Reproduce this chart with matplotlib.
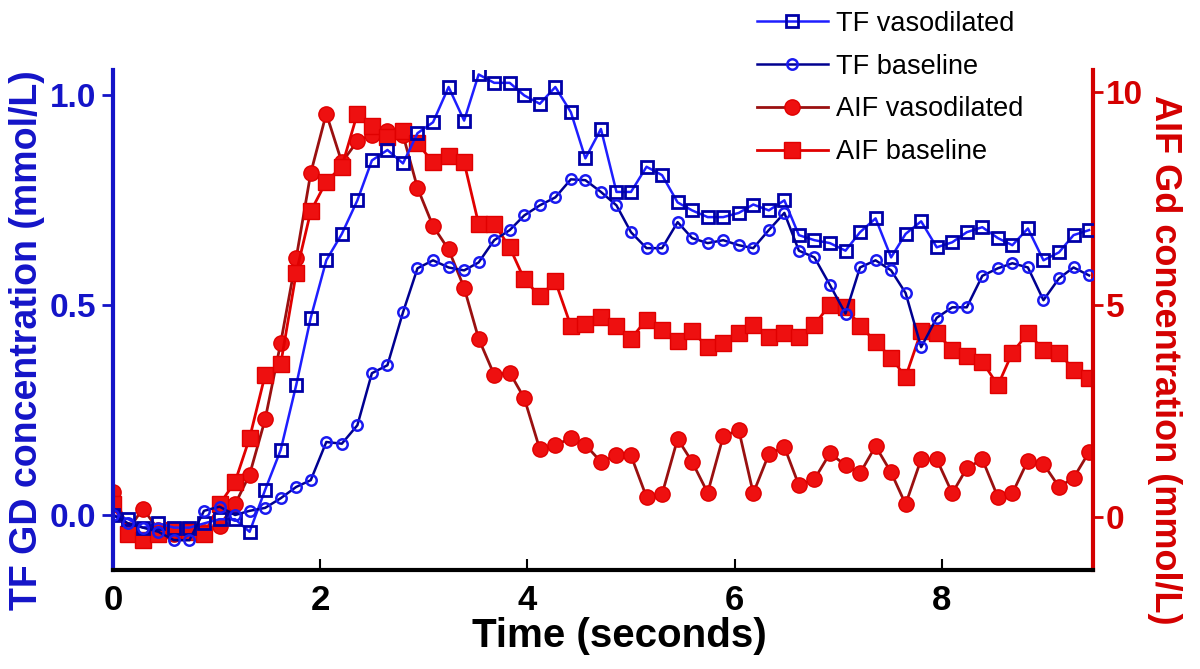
import matplotlib.pyplot as plt

plt.rcParams['font.family'] = ['Liberation Sans', 'DejaVu Sans']

# sample times (s)
time = [0.00, 0.15, 0.29, 0.44, 0.59, 0.74, 0.88, 1.03, 1.18, 1.32,
        1.47, 1.62, 1.77, 1.91, 2.06, 2.21, 2.36, 2.50, 2.65, 2.80,
        2.94, 3.09, 3.24, 3.39, 3.53, 3.68, 3.83, 3.97, 4.12, 4.27,
        4.42, 4.56, 4.71, 4.86, 5.00, 5.15, 5.30, 5.45, 5.59, 5.74,
        5.89, 6.04, 6.18, 6.33, 6.48, 6.62, 6.77, 6.92, 7.07, 7.21,
        7.36, 7.51, 7.65, 7.80, 7.95, 8.10, 8.24, 8.39, 8.54, 8.68,
        8.83, 8.98, 9.13, 9.27, 9.42]

# tissue function (left axis, mmol/L)
tf_vaso = [0.00, -0.01, -0.03, -0.02, -0.03, -0.03, -0.02, -0.01, -0.01, -0.04,
           0.06, 0.155, 0.31, 0.47, 0.607, 0.67, 0.75, 0.845, 0.87, 0.838,
           0.91, 0.936, 1.02, 0.94, 1.05, 1.03, 1.03, 1.00, 0.98, 1.02,
           0.96, 0.85, 0.92, 0.77, 0.77, 0.83, 0.81, 0.745, 0.726, 0.71,
           0.71, 0.72, 0.74, 0.726, 0.75, 0.667, 0.655, 0.648, 0.63, 0.674,
           0.707, 0.614, 0.67, 0.70, 0.638, 0.65, 0.674, 0.686, 0.66, 0.643,
           0.683, 0.607, 0.626, 0.667, 0.679]
tf_base = [0.00, -0.02, -0.03, -0.04, -0.06, -0.06, 0.01, 0.02, 0.00, 0.01,
           0.017, 0.04, 0.067, 0.083, 0.174, 0.17, 0.214, 0.338, 0.357, 0.483,
           0.588, 0.607, 0.59, 0.583, 0.602, 0.655, 0.679, 0.714, 0.738, 0.757,
           0.80, 0.798, 0.77, 0.738, 0.674, 0.636, 0.636, 0.698, 0.66, 0.648,
           0.655, 0.643, 0.636, 0.679, 0.72, 0.63, 0.614, 0.548, 0.48, 0.59,
           0.607, 0.583, 0.529, 0.40, 0.47, 0.495, 0.495, 0.57, 0.588, 0.60,
           0.59, 0.512, 0.564, 0.59, 0.571]

# arterial input function (right axis, mmol/L)
aif_vaso = [0.6, -0.3, 0.2, -0.3, -0.4, -0.3, -0.35, -0.2, 0.3, 1.0,
            2.3, 4.1, 6.1, 8.1, 9.5, 8.35, 8.85, 9.0, 9.1, 9.0,
            7.75, 6.85, 6.3, 5.4, 4.2, 3.35, 3.4, 2.8, 1.6, 1.7,
            1.85, 1.7, 1.3, 1.45, 1.45, 0.47, 0.54, 1.84, 1.3, 0.57,
            1.9, 2.05, 0.56, 1.48, 1.65, 0.75, 0.89, 1.5, 1.22, 1.03,
            1.67, 1.05, 0.3, 1.36, 1.36, 0.56, 1.15, 1.36, 0.47, 0.56,
            1.33, 1.25, 0.71, 0.92, 1.53]
aif_base = [0.3, -0.4, -0.55, -0.4, -0.3, -0.35, -0.4, 0.3, 0.83, 1.86,
            3.35, 3.6, 5.75, 7.2, 7.9, 8.25, 9.5, 9.2, 8.95, 9.1,
            8.8, 8.35, 8.5, 8.35, 6.9, 6.9, 6.35, 5.6, 5.2, 5.55,
            4.5, 4.55, 4.7, 4.5, 4.2, 4.65, 4.4, 4.15, 4.37, 4.0,
            4.1, 4.33, 4.53, 4.25, 4.33, 4.25, 4.53, 5.0, 4.95, 4.5,
            4.13, 3.75, 3.3, 4.37, 4.33, 3.94, 3.78, 3.66, 3.1, 3.87,
            4.33, 3.94, 3.87, 3.47, 3.28]

x_ticks = [0, 2, 4, 6, 8]
tf_ticks = [0.0, 0.5, 1.0]
aif_ticks = [0, 5, 10]

BLUE = '#1414c8'
RED = '#d40000'


def main():
    fig = plt.figure(figsize=(12, 6.69), dpi=100)
    ax = fig.add_axes([0.094, 0.148, 0.817, 0.747])
    ax2 = ax.twinx()
    # blue curves drawn on top of red ones
    ax.set_zorder(ax2.get_zorder() + 1)
    ax.patch.set_visible(False)

    h3, = ax2.plot(time, aif_vaso, color='#9a1010', lw=2, marker='o', ms=11,
                   mfc='#ee1010', mec='#e00000', label='AIF vasodilated')
    h4, = ax2.plot(time, aif_base, color='#e00000', lw=2, marker='s', ms=11,
                   mfc='#ee1010', mec='#e00000', label='AIF baseline')
    h1, = ax.plot(time, tf_vaso, color='#1e1eff', lw=1.8, marker='s', ms=9,
                  mfc='none', mec='#0000a8', mew=2, label='TF vasodilated')
    h2, = ax.plot(time, tf_base, color='#000090', lw=1.8, marker='o', ms=7.5,
                  mfc='none', mec='#1a1af0', mew=1.8, label='TF baseline')

    ax.set_xlim(0, 9.46)
    ax.set_ylim(-0.131, 1.06)
    ax2.set_ylim(-1.247, 10.52)

    ax.set_xticks(x_ticks)
    ax.set_yticks(tf_ticks)
    ax.set_yticklabels([f'{v:.1f}' for v in tf_ticks])
    ax2.set_yticks(aif_ticks)

    for a in (ax, ax2):
        a.spines['top'].set_visible(False)
    ax.spines['right'].set_visible(False)
    ax2.spines['left'].set_visible(False)
    ax2.spines['bottom'].set_visible(False)
    ax.spines['left'].set_color(BLUE)
    ax.spines['left'].set_linewidth(3)
    ax.spines['bottom'].set_color('black')
    ax.spines['bottom'].set_linewidth(3)
    ax2.spines['right'].set_color(RED)
    ax2.spines['right'].set_linewidth(3)

    ax.tick_params(axis='y', colors=BLUE, direction='out', length=8, width=2,
                   labelsize=24, pad=4)
    ax.tick_params(axis='x', colors='black', direction='in', length=8, width=1.5,
                   labelsize=25, pad=10)
    ax2.tick_params(axis='y', colors=RED, direction='out', length=7, width=2,
                    labelsize=24, pad=2)
    for lab in ax.get_xticklabels() + ax.get_yticklabels() + ax2.get_yticklabels():
        lab.set_fontweight('bold')

    ax.set_xlabel('Time (seconds)', fontsize=29, fontweight='bold', labelpad=0,
                  x=0.517)
    ax.set_ylabel('TF GD concentration (mmol/L)', fontsize=27, fontweight='bold',
                  color=BLUE, labelpad=3, y=0.46)
    ax2.set_ylabel('AIF Gd concentration (mmol/L)', fontsize=26, fontweight='bold',
                   color=RED, rotation=270, labelpad=28, y=0.42)

    fig.legend(handles=[h1, h2, h3, h4], loc='upper left',
               bbox_to_anchor=(0.622, 1.0), frameon=False, fontsize=19.5,
               handlelength=2.6, handletextpad=0.3, labelspacing=0.62,
               borderaxespad=0.0)

    fig.savefig('out.png', dpi=100)


if __name__ == '__main__':
    main()
